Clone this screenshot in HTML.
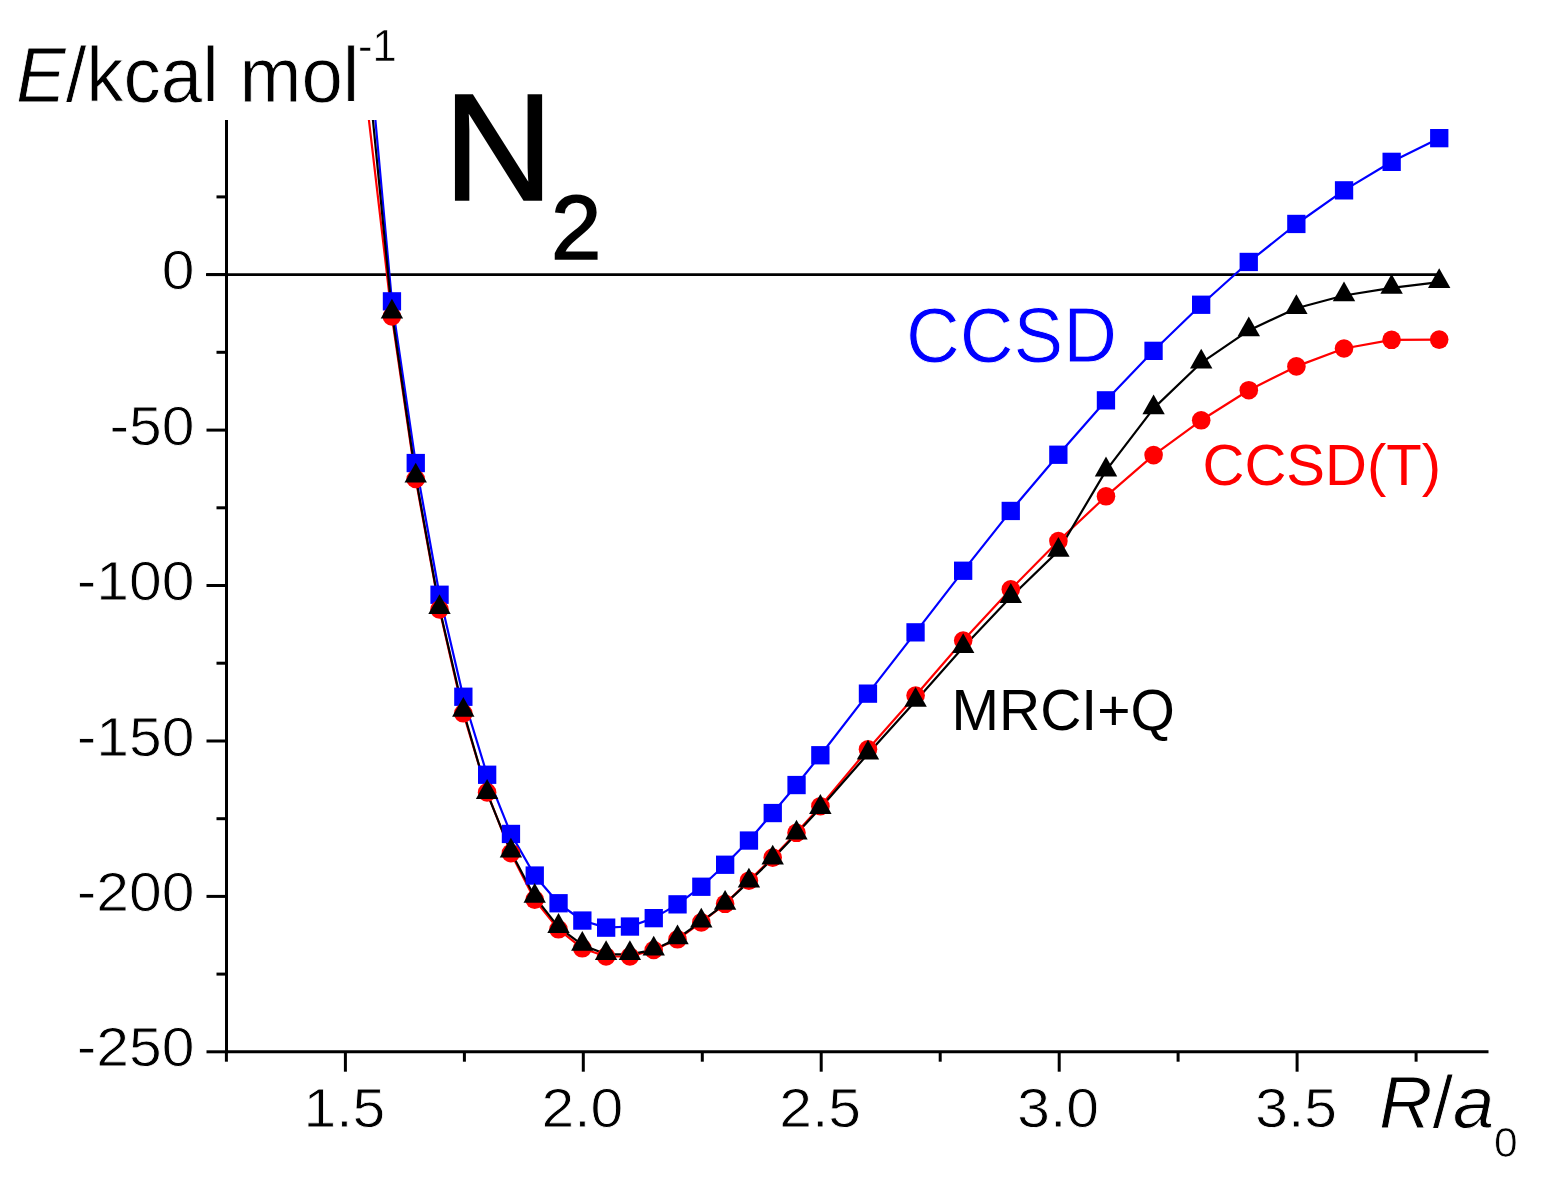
<!DOCTYPE html><html><head><meta charset="utf-8"><title>N2 potential energy curves</title><style>html,body{margin:0;padding:0;background:#fff}svg{display:block}text{font-family:"Liberation Sans",Arial,sans-serif}</style></head><body>
<svg width="1542" height="1183" viewBox="0 0 1542 1183">
<rect width="1542" height="1183" fill="#fff"/>
<defs><clipPath id="pc"><rect x="226.5" y="120.0" width="1262.0" height="931.7"/></clipPath></defs>
<line x1="206" y1="274.6" x2="1440" y2="274.6" stroke="#000" stroke-width="2.6"/>
<g clip-path="url(#pc)" fill="none" stroke-width="2.2" stroke-linejoin="round">
<path d="M368.1,40.0 L391.9,301.3 L415.7,463.0 L439.5,594.8 L463.3,696.7 L487.1,774.7 L510.9,833.9 L534.7,875.5 L558.5,903.3 L582.3,920.5 L606.1,927.6 L629.9,926.5 L653.7,918.1 L677.5,904.4 L701.3,886.7 L725.1,864.7 L748.9,840.5 L772.7,813.0 L796.5,785.0 L820.4,755.2 L868.0,693.6 L915.6,632.4 L963.2,570.8 L1010.8,510.9 L1058.4,454.7 L1106.0,400.4 L1153.6,350.8 L1201.2,304.7 L1248.8,262.0 L1296.4,224.0 L1344.0,190.4 L1391.6,161.8 L1439.2,138.2" stroke="#0000ff"/>
<path d="M368.1,113.0 L391.9,316.5 L415.7,479.0 L439.5,609.5 L463.3,713.3 L487.1,792.4 L510.9,853.2 L534.7,899.7 L558.5,929.3 L582.3,948.3 L606.1,956.5 L629.9,956.5 L653.7,950.0 L677.5,939.3 L701.3,922.4 L725.1,903.8 L748.9,880.7 L772.7,857.6 L796.5,832.8 L820.4,806.2 L868.0,749.3 L915.6,695.5 L963.2,640.5 L1010.8,589.3 L1058.4,541.0 L1106.0,496.3 L1153.6,455.1 L1201.2,420.3 L1248.8,390.2 L1296.4,366.4 L1344.0,348.5 L1391.6,339.8 L1439.2,339.6" stroke="#ff0000"/>
<path d="M368.1,71.0 L391.9,312.7 L415.7,476.7 L439.5,608.2 L463.3,711.0 L487.1,793.1 L510.9,851.8 L534.7,896.9 L558.5,927.1 L582.3,944.9 L606.1,954.3 L629.9,954.3 L653.7,949.8 L677.5,938.5 L701.3,921.7 L725.1,903.9 L748.9,881.7 L772.7,858.7 L796.5,833.8 L820.4,808.1 L868.0,753.8 L915.6,701.0 L963.2,647.2 L1010.8,597.1 L1058.4,550.9 L1106.0,470.6 L1153.6,408.4 L1201.2,362.8 L1248.8,330.4 L1296.4,308.2 L1344.0,295.5 L1391.6,287.9 L1439.2,282.2" stroke="#000"/>
</g>
<g clip-path="url(#pc)">
<g fill="#0000ff">
<rect x="382.8" y="292.2" width="18.3" height="18.3"/>
<rect x="406.6" y="453.9" width="18.3" height="18.3"/>
<rect x="430.4" y="585.6" width="18.3" height="18.3"/>
<rect x="454.2" y="687.6" width="18.3" height="18.3"/>
<rect x="478.0" y="765.6" width="18.3" height="18.3"/>
<rect x="501.8" y="824.8" width="18.3" height="18.3"/>
<rect x="525.6" y="866.4" width="18.3" height="18.3"/>
<rect x="549.4" y="894.1" width="18.3" height="18.3"/>
<rect x="573.2" y="911.4" width="18.3" height="18.3"/>
<rect x="597.0" y="918.5" width="18.3" height="18.3"/>
<rect x="620.8" y="917.4" width="18.3" height="18.3"/>
<rect x="644.6" y="909.0" width="18.3" height="18.3"/>
<rect x="668.4" y="895.2" width="18.3" height="18.3"/>
<rect x="692.2" y="877.6" width="18.3" height="18.3"/>
<rect x="716.0" y="855.6" width="18.3" height="18.3"/>
<rect x="739.8" y="831.4" width="18.3" height="18.3"/>
<rect x="763.6" y="803.9" width="18.3" height="18.3"/>
<rect x="787.4" y="775.9" width="18.3" height="18.3"/>
<rect x="811.2" y="746.1" width="18.3" height="18.3"/>
<rect x="858.8" y="684.5" width="18.3" height="18.3"/>
<rect x="906.4" y="623.2" width="18.3" height="18.3"/>
<rect x="954.0" y="561.6" width="18.3" height="18.3"/>
<rect x="1001.6" y="501.8" width="18.3" height="18.3"/>
<rect x="1049.2" y="445.6" width="18.3" height="18.3"/>
<rect x="1096.8" y="391.2" width="18.3" height="18.3"/>
<rect x="1144.4" y="341.7" width="18.3" height="18.3"/>
<rect x="1192.0" y="295.6" width="18.3" height="18.3"/>
<rect x="1239.6" y="252.8" width="18.3" height="18.3"/>
<rect x="1287.2" y="214.8" width="18.3" height="18.3"/>
<rect x="1334.9" y="181.2" width="18.3" height="18.3"/>
<rect x="1382.5" y="152.7" width="18.3" height="18.3"/>
<rect x="1430.1" y="129.0" width="18.3" height="18.3"/>
</g><g fill="#ff0000">
<circle cx="391.9" cy="316.5" r="9.3"/>
<circle cx="415.7" cy="479.0" r="9.3"/>
<circle cx="439.5" cy="609.5" r="9.3"/>
<circle cx="463.3" cy="713.3" r="9.3"/>
<circle cx="487.1" cy="792.4" r="9.3"/>
<circle cx="510.9" cy="853.2" r="9.3"/>
<circle cx="534.7" cy="899.7" r="9.3"/>
<circle cx="558.5" cy="929.3" r="9.3"/>
<circle cx="582.3" cy="948.3" r="9.3"/>
<circle cx="606.1" cy="956.5" r="9.3"/>
<circle cx="629.9" cy="956.5" r="9.3"/>
<circle cx="653.7" cy="950.0" r="9.3"/>
<circle cx="677.5" cy="939.3" r="9.3"/>
<circle cx="701.3" cy="922.4" r="9.3"/>
<circle cx="725.1" cy="903.8" r="9.3"/>
<circle cx="748.9" cy="880.7" r="9.3"/>
<circle cx="772.7" cy="857.6" r="9.3"/>
<circle cx="796.5" cy="832.8" r="9.3"/>
<circle cx="820.4" cy="806.2" r="9.3"/>
<circle cx="868.0" cy="749.3" r="9.3"/>
<circle cx="915.6" cy="695.5" r="9.3"/>
<circle cx="963.2" cy="640.5" r="9.3"/>
<circle cx="1010.8" cy="589.3" r="9.3"/>
<circle cx="1058.4" cy="541.0" r="9.3"/>
<circle cx="1106.0" cy="496.3" r="9.3"/>
<circle cx="1153.6" cy="455.1" r="9.3"/>
<circle cx="1201.2" cy="420.3" r="9.3"/>
<circle cx="1248.8" cy="390.2" r="9.3"/>
<circle cx="1296.4" cy="366.4" r="9.3"/>
<circle cx="1344.0" cy="348.5" r="9.3"/>
<circle cx="1391.6" cy="339.8" r="9.3"/>
<circle cx="1439.2" cy="339.6" r="9.3"/>
</g><g fill="#000">
<path d="M391.9,298.7L403.1,318.5L380.7,318.5Z"/>
<path d="M415.7,462.7L426.9,482.5L404.5,482.5Z"/>
<path d="M439.5,594.2L450.7,614.0L428.3,614.0Z"/>
<path d="M463.3,697.0L474.5,716.8L452.1,716.8Z"/>
<path d="M487.1,779.1L498.3,798.9L475.9,798.9Z"/>
<path d="M510.9,837.8L522.1,857.6L499.7,857.6Z"/>
<path d="M534.7,882.9L545.9,902.7L523.5,902.7Z"/>
<path d="M558.5,913.1L569.7,932.9L547.3,932.9Z"/>
<path d="M582.3,930.9L593.5,950.7L571.1,950.7Z"/>
<path d="M606.1,940.3L617.3,960.1L594.9,960.1Z"/>
<path d="M629.9,940.3L641.1,960.1L618.7,960.1Z"/>
<path d="M653.7,935.8L664.9,955.6L642.5,955.6Z"/>
<path d="M677.5,924.5L688.7,944.3L666.3,944.3Z"/>
<path d="M701.3,907.7L712.5,927.5L690.1,927.5Z"/>
<path d="M725.1,889.9L736.3,909.7L713.9,909.7Z"/>
<path d="M748.9,867.7L760.1,887.5L737.7,887.5Z"/>
<path d="M772.7,844.7L783.9,864.5L761.5,864.5Z"/>
<path d="M796.5,819.8L807.7,839.6L785.3,839.6Z"/>
<path d="M820.4,794.1L831.6,813.9L809.1,813.9Z"/>
<path d="M868.0,739.8L879.2,759.6L856.8,759.6Z"/>
<path d="M915.6,687.0L926.8,706.8L904.4,706.8Z"/>
<path d="M963.2,633.2L974.4,653.0L952.0,653.0Z"/>
<path d="M1010.8,583.1L1022.0,602.9L999.6,602.9Z"/>
<path d="M1058.4,536.9L1069.6,556.7L1047.2,556.7Z"/>
<path d="M1106.0,456.6L1117.2,476.4L1094.8,476.4Z"/>
<path d="M1153.6,394.4L1164.8,414.2L1142.4,414.2Z"/>
<path d="M1201.2,348.8L1212.4,368.6L1190.0,368.6Z"/>
<path d="M1248.8,316.4L1260.0,336.2L1237.6,336.2Z"/>
<path d="M1296.4,294.2L1307.6,314.0L1285.2,314.0Z"/>
<path d="M1344.0,281.5L1355.2,301.3L1332.8,301.3Z"/>
<path d="M1391.6,273.9L1402.8,293.7L1380.4,293.7Z"/>
<path d="M1439.2,268.2L1450.4,288.0L1428.0,288.0Z"/>
</g></g>
<g stroke="#000" stroke-width="3" fill="none">
<line x1="226.5" y1="120.0" x2="226.5" y2="1053.2"/>
<line x1="225.0" y1="1051.7" x2="1488.5" y2="1051.7"/>
<line x1="206.5" y1="1051.8" x2="226.5" y2="1051.8"/>
<line x1="216.5" y1="974.1" x2="226.5" y2="974.1"/>
<line x1="206.5" y1="896.4" x2="226.5" y2="896.4"/>
<line x1="216.5" y1="818.7" x2="226.5" y2="818.7"/>
<line x1="206.5" y1="741.0" x2="226.5" y2="741.0"/>
<line x1="216.5" y1="663.2" x2="226.5" y2="663.2"/>
<line x1="206.5" y1="585.5" x2="226.5" y2="585.5"/>
<line x1="216.5" y1="507.8" x2="226.5" y2="507.8"/>
<line x1="206.5" y1="430.1" x2="226.5" y2="430.1"/>
<line x1="216.5" y1="352.3" x2="226.5" y2="352.3"/>
<line x1="206.5" y1="274.6" x2="226.5" y2="274.6"/>
<line x1="216.5" y1="196.9" x2="226.5" y2="196.9"/>
<line x1="226.4" y1="1051.7" x2="226.4" y2="1061.7"/>
<line x1="345.4" y1="1051.7" x2="345.4" y2="1071.7"/>
<line x1="464.4" y1="1051.7" x2="464.4" y2="1061.7"/>
<line x1="583.3" y1="1051.7" x2="583.3" y2="1071.7"/>
<line x1="702.3" y1="1051.7" x2="702.3" y2="1061.7"/>
<line x1="821.2" y1="1051.7" x2="821.2" y2="1071.7"/>
<line x1="940.2" y1="1051.7" x2="940.2" y2="1061.7"/>
<line x1="1059.2" y1="1051.7" x2="1059.2" y2="1071.7"/>
<line x1="1178.1" y1="1051.7" x2="1178.1" y2="1061.7"/>
<line x1="1297.1" y1="1051.7" x2="1297.1" y2="1071.7"/>
<line x1="1416.1" y1="1051.7" x2="1416.1" y2="1061.7"/>
</g>
<text transform="translate(194.5,289.1) scale(1.06,1)" text-anchor="end" font-size="55.5" stroke="#fff" stroke-width="0.8">0</text>
<text transform="translate(194.5,444.6) scale(1.06,1)" text-anchor="end" font-size="55.5" stroke="#fff" stroke-width="0.8">-50</text>
<text transform="translate(194.5,600.0) scale(1.06,1)" text-anchor="end" font-size="55.5" stroke="#fff" stroke-width="0.8">-100</text>
<text transform="translate(194.5,755.5) scale(1.06,1)" text-anchor="end" font-size="55.5" stroke="#fff" stroke-width="0.8">-150</text>
<text transform="translate(194.5,910.9) scale(1.06,1)" text-anchor="end" font-size="55.5" stroke="#fff" stroke-width="0.8">-200</text>
<text transform="translate(194.5,1066.3) scale(1.06,1)" text-anchor="end" font-size="55.5" stroke="#fff" stroke-width="0.8">-250</text>
<text transform="translate(344.4,1127.3) scale(1.06,1)" text-anchor="middle" font-size="55.5" stroke="#fff" stroke-width="0.8">1.5</text>
<text transform="translate(582.3,1127.3) scale(1.06,1)" text-anchor="middle" font-size="55.5" stroke="#fff" stroke-width="0.8">2.0</text>
<text transform="translate(820.2,1127.3) scale(1.06,1)" text-anchor="middle" font-size="55.5" stroke="#fff" stroke-width="0.8">2.5</text>
<text transform="translate(1058.2,1127.3) scale(1.06,1)" text-anchor="middle" font-size="55.5" stroke="#fff" stroke-width="0.8">3.0</text>
<text transform="translate(1296.1,1127.3) scale(1.06,1)" text-anchor="middle" font-size="55.5" stroke="#fff" stroke-width="0.8">3.5</text>
<text transform="translate(16,101.5) scale(0.967,1)" font-size="77" stroke="#fff" stroke-width="0.8"><tspan font-style="italic">E</tspan>/kcal mol</text>
<text x="358" y="60.5" font-size="43.5" stroke="#fff" stroke-width="0.5">-1</text>
<text transform="translate(1379,1128)" font-size="74" stroke="#fff" stroke-width="0.9"><tspan font-style="italic">R</tspan>/<tspan font-style="italic">a</tspan></text>
<text x="1494" y="1156.5" font-size="42.5" stroke="#fff" stroke-width="0.7">0</text>
<text x="443.2" y="199.8" font-size="153" stroke="#000" stroke-width="1.7" stroke-linejoin="miter">N</text>
<text x="551" y="258.6" font-size="90.5" stroke="#000" stroke-width="1.6">2</text>
<text transform="translate(906,361.8) scale(0.96,1)" font-size="77.6" fill="#0000ff" stroke="#fff" stroke-width="0.9">CCSD</text>
<text x="1202.6" y="485.2" font-size="58" fill="#ff0000">CCSD(T)</text>
<text x="951.5" y="730.3" font-size="57">MRCI+Q</text>
</svg></body></html>
